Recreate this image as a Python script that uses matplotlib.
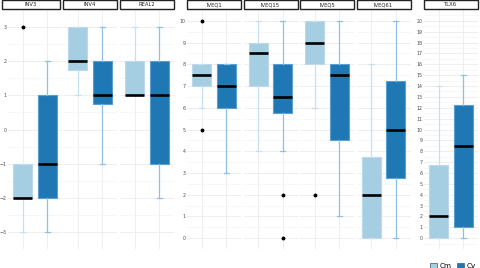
import matplotlib
matplotlib.use("Agg")
import matplotlib.pyplot as plt
from matplotlib.patches import Patch, Rectangle

# panel names and which y-scale group they belong to
panels = ["INV3", "INV4", "REAL2", "IVEQ1", "IVEQ15", "IVEQ5", "IVEQ61", "TLX6"]
scale_group = [0, 0, 0, 1, 1, 1, 1, 2]
group_range = [(-3, 3), (0, 10), (0, 20)]

# Cm box stats
cm_q1 = [-2, 1.75, 1, 7, 7, 8, 0, 0]
cm_med = [-2, 2, 1, 7.5, 8.5, 9, 2, 2]
cm_q3 = [-1, 3, 2, 8, 9, 10, 3.75, 6.75]
cm_lo = [-3, 1, 1, 6, 4, 6, 0, 0]
cm_hi = [-1, 3, 3, 8, 10, 10, 8, 14]
cm_out = [[3], [], [], [10, 5], [], [2], [], []]

# Cv box stats
cv_q1 = [-2, 0.75, -1, 6, 5.75, 4.5, 2.75, 1]
cv_med = [-1, 1, 1, 7, 6.5, 7.5, 5, 8.5]
cv_q3 = [1, 2, 2, 8, 8, 8, 7.25, 12.25]
cv_lo = [-3, -1, -2, 3, 4, 1, 0, 0]
cv_hi = [2, 3, 3, 8, 10, 10, 10, 15]
cv_out = [[], [], [], [], [2, 0], [], [], []]

series = ["Cm", "Cv"]
fill = {"Cm": "#a6cee3", "Cv": "#1f78b4"}
edge = {"Cm": "#bcd9ec", "Cv": "#5b9fd2"}
whisk = {"Cm": "#c6e0f1", "Cv": "#8fc0e3"}

W, H = 480, 268
fig = plt.figure(figsize=(W / 100, H / 100), dpi=100)

# panel layout in pixels
lefts = [8, 63, 120, 187, 243.5, 300, 356.5, 424]
pw = 54
top_px, bot_px = 10, 249


def make_stats(i, q1, med, q3, lo, hi, out):
    return dict(q1=q1[i], med=med[i], q3=q3[i], whislo=lo[i], whishi=hi[i], fliers=out[i])


for i, name in enumerate(panels):
    ax = fig.add_axes([lefts[i] / W, (H - bot_px) / H, pw / W, (bot_px - top_px) / H])
    stats = {
        "Cm": make_stats(i, cm_q1, cm_med, cm_q3, cm_lo, cm_hi, cm_out),
        "Cv": make_stats(i, cv_q1, cv_med, cv_q3, cv_lo, cv_hi, cv_out),
    }
    for pos, s in enumerate(series, start=1):
        ax.bxp([stats[s]], positions=[pos], widths=0.78, patch_artist=True,
               manage_ticks=False, capwidths=0.2,
               boxprops=dict(facecolor=fill[s], edgecolor=edge[s], linewidth=0.8),
               medianprops=dict(color="black", linewidth=1.9),
               whiskerprops=dict(color=whisk[s], linewidth=0.9),
               capprops=dict(color=whisk[s], linewidth=0.9),
               flierprops=dict(marker="o", markerfacecolor="black", markeredgecolor="black",
                               markersize=1.8))

    lo, hi = group_range[scale_group[i]]
    pad = (hi - lo) * 0.05
    ax.set_ylim(lo - pad, hi + pad)
    ax.set_xlim(0.4, 2.6)
    ax.set_yticks(range(lo, hi + 1))
    ax.set_yticks([v + 0.5 for v in range(lo - 1, hi + 1)], minor=True)
    ax.set_xticks([1, 2])
    ax.set_xticklabels([])
    ax.grid(which="major", color="#ebebeb", linewidth=0.6)
    ax.grid(which="minor", axis="y", color="#f4f4f4", linewidth=0.5)
    ax.set_axisbelow(True)
    for sp in ax.spines.values():
        sp.set_visible(False)
    ax.tick_params(which="both", length=0, labelsize=3.4, labelcolor="#4d4d4d", pad=1.0)
    # only the first panel of a group shows its y labels
    if i > 0 and scale_group[i] == scale_group[i - 1]:
        ax.set_yticklabels([])

    # strip header
    x0 = lefts[i] if i > 0 else 2
    x1 = lefts[i] + pw - (0 if i > 0 else 2)
    fig.add_artist(Rectangle((x0 / W, (H - 9) / H), (x1 - x0) / W, 8.5 / H,
                             transform=fig.transFigure, facecolor="white",
                             edgecolor="#222222", linewidth=1.0))
    fig.text((x0 + x1) / 2 / W, (H - 4.8) / H, name, ha="center", va="center",
             fontsize=3.8, color="#222222")

handles = [Patch(facecolor=fill[s], edgecolor="#4a6f8c", linewidth=0.6) for s in series]
fig.legend(handles, series, loc="lower right", bbox_to_anchor=(1.0, -0.02), ncol=2,
           fontsize=5.2, frameon=False, handlelength=1.0, handleheight=0.6,
           columnspacing=0.7, handletextpad=0.35, borderaxespad=0.2)

fig.savefig("out.png", dpi=100)
